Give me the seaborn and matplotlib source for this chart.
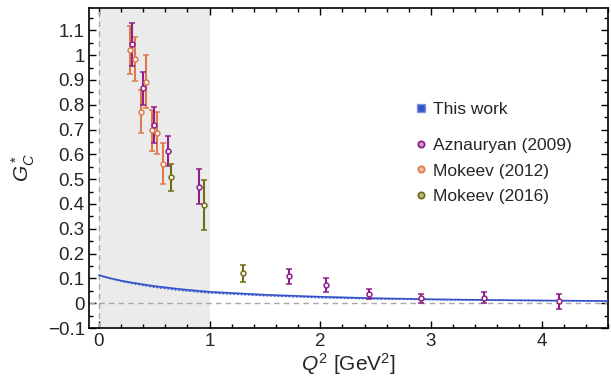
import matplotlib
matplotlib.use("Agg")
import matplotlib.pyplot as plt
import seaborn as sns
import pandas as pd
from matplotlib.ticker import MultipleLocator, FuncFormatter
from matplotlib.lines import Line2D

# Aznauryan (2009)
azn_q2 = [0.30, 0.40, 0.50, 0.625, 0.90, 1.72, 2.05, 2.44, 2.91, 3.48, 4.16]
azn_g = [1.044, 0.866, 0.718, 0.614, 0.470, 0.108, 0.074, 0.037, 0.019, 0.023, 0.008]
azn_err = [0.087, 0.068, 0.072, 0.062, 0.070, 0.031, 0.029, 0.022, 0.019, 0.023, 0.031]

# Mokeev (2012)
mk12_q2 = [0.278, 0.33, 0.377, 0.428, 0.477, 0.528, 0.576]
mk12_g = [1.021, 0.985, 0.772, 0.892, 0.697, 0.687, 0.563]
mk12_err = [0.095, 0.090, 0.087, 0.107, 0.083, 0.085, 0.083]

# Mokeev (2016)
mk16_q2 = [0.652, 0.953, 1.30]
mk16_g = [0.507, 0.395, 0.120]
mk16_err = [0.053, 0.100, 0.036]

# This work: band edges
band_q2 = [0.0, 0.1, 0.2, 0.3, 0.5, 0.75, 1.0, 1.5, 2.0, 2.5, 3.0, 3.5, 4.0, 4.6]
band_hi = [0.113, 0.101, 0.091, 0.083, 0.069, 0.056, 0.046, 0.034, 0.026, 0.020, 0.016, 0.013, 0.011, 0.009]
band_lo = [0.112, 0.099, 0.088, 0.079, 0.064, 0.051, 0.041, 0.030, 0.022, 0.017, 0.014, 0.012, 0.010, 0.008]

c_azn = '#8E1F8C'
c_mk12 = '#E07A4C'
c_mk16 = '#6E6E14'
c_band = '#3553C8'
legend_fill = {c_azn: '#caa0c9', c_mk12: '#f0c0a8', c_mk16: '#b8b890'}

sns.set_style("ticks")
plt.rcParams['font.family'] = ['Liberation Sans', 'DejaVu Sans']
plt.rcParams['mathtext.fontset'] = 'custom'
plt.rcParams['mathtext.it'] = 'Liberation Sans:italic'
plt.rcParams['mathtext.rm'] = 'Liberation Sans'

fig = plt.figure(figsize=(6.11, 3.84), dpi=100)
ax = fig.add_axes([0.1457, 0.1458, 0.8493, 0.8333])

ax.axvspan(0, 1, color='#EBEBEB', zorder=0, lw=0)
ax.axhline(0, color='#A8A8A8', ls=(0, (4, 3)), lw=1, zorder=1)
ax.axvline(0, color='#A8A8A8', ls=(0, (4, 3)), lw=1, zorder=1)

band = pd.DataFrame({'q2': band_q2, 'hi': band_hi, 'lo': band_lo})
ax.fill_between(band['q2'], band['lo'], band['hi'], color=c_band, alpha=0.35, lw=0, zorder=2)
sns.lineplot(data=band, x='q2', y='hi', ax=ax, color=c_band, lw=1.2, zorder=3)
sns.lineplot(data=band, x='q2', y='lo', ax=ax, color=c_band, lw=1.0, ls=':', zorder=3)

for q, g, e, c in [(mk12_q2, mk12_g, mk12_err, c_mk12),
                   (azn_q2, azn_g, azn_err, c_azn),
                   (mk16_q2, mk16_g, mk16_err, c_mk16)]:
    ax.errorbar(q, g, yerr=e, fmt='o', ms=3.5, mfc='white', mec=c, mew=1.1,
                ecolor=c, elinewidth=1.5, capsize=2.5, capthick=1.2, zorder=4)

ax.set_xlim(-0.09, 4.6)
ax.set_ylim(-0.1, 1.19)
ax.xaxis.set_major_locator(MultipleLocator(1))
ax.xaxis.set_minor_locator(MultipleLocator(0.2))
ax.yaxis.set_major_locator(MultipleLocator(0.1))
ax.yaxis.set_minor_locator(MultipleLocator(0.05))

def fmt(v, pos):
    s = ('%.1f' % v).rstrip('0').rstrip('.')
    if s in ('-0', ''):
        s = '0'
    return s.replace('-', '\u2212')

ax.xaxis.set_major_formatter(FuncFormatter(fmt))
ax.yaxis.set_major_formatter(FuncFormatter(fmt))
ax.tick_params(which='both', direction='in', top=True, right=True, labelsize=13.5, width=1, color='black')
ax.tick_params(which='major', length=5)
ax.tick_params(which='minor', length=3)
ax.tick_params(axis='y', which='both', pad=3)
for s in ax.spines.values():
    s.set_linewidth(1.2)
    s.set_color('black')

ax.set_xlabel(r'$Q^2$ [GeV$^2$]', fontsize=15, labelpad=1)
ax.set_ylabel(r'$G_C^*$', fontsize=15, labelpad=8)

h1 = [Line2D([], [], marker='s', ls='', ms=6, mfc=c_band, mec='#7f93dd', label='This work')]
leg1 = ax.legend(handles=h1, loc='upper left', bbox_to_anchor=(0.61, 0.727), frameon=False,
                 fontsize=12.5, handletextpad=0.2, handlelength=1.0, borderaxespad=0)
ax.add_artist(leg1)
h2 = [Line2D([], [], marker='o', ls='', ms=4.5, mfc=legend_fill[c], mec=c, mew=1.3, label=l)
      for c, l in [(c_azn, 'Aznauryan (2009)'), (c_mk12, 'Mokeev (2012)'), (c_mk16, 'Mokeev (2016)')]]
ax.legend(handles=h2, loc='upper left', bbox_to_anchor=(0.61, 0.615), frameon=False,
          fontsize=12.5, handletextpad=0.2, handlelength=1.0, borderaxespad=0, labelspacing=0.58)

fig.savefig('out.png', dpi=100)
